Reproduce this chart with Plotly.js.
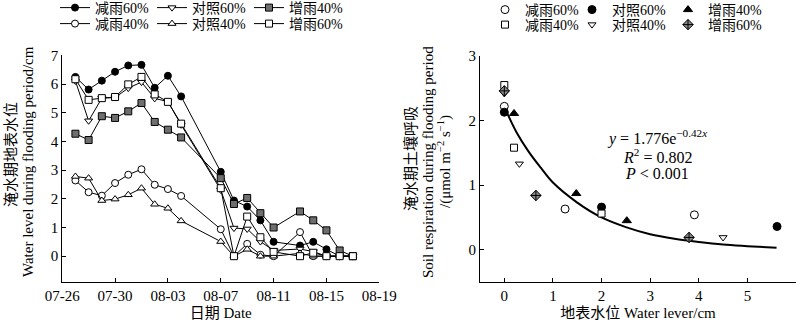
<!DOCTYPE html>
<html>
<head>
<meta charset="utf-8">
<script src="https://cdn.plot.ly/plotly-3.0.1.min.js"></script>
<style>html,body{margin:0;padding:0;background:#fff}#chart{width:800px;height:322px}</style>
</head>
<body>
<div id="chart"></div>
<script>
// ---------- Left chart: water level during flooding period ----------
const dates = ['2020-07-27','2020-07-28','2020-07-29','2020-07-30','2020-07-31','2020-08-01','2020-08-02','2020-08-03','2020-08-04','2020-08-07','2020-08-08','2020-08-09','2020-08-10','2020-08-11','2020-08-13','2020-08-14','2020-08-15','2020-08-16','2020-08-17'];
const jian60 = [6.25, 5.81, 6.12, 6.43, 6.65, 6.67, 5.87, 6.29, 5.57, 2.94, 1.94, 1.73, 1.25, 0.50, 0.37, 0.50, 0.24, 0, 0];
const jian40 = [2.64, 2.23, 2.11, 2.55, 2.84, 3.03, 2.49, 2.34, 2.10, 0.94, 0, 0.43, 0.05, 0, 0.84, 0, 0, 0, 0];
const dui60  = [6.11, 4.72, 5.51, 5.53, 5.86, 6.07, 5.50, 5.39, 4.58, 2.31, 0.98, 0.95, 0.51, 0.20, 0.25, 0.16, 0, 0, 0];
const dui40  = [2.78, 2.72, 1.94, 1.99, 2.14, 2.37, 1.81, 1.67, 1.23, 0.51, 0, 0.24, 0, 0, 0.10, 0, 0, 0, 0];
const zeng40 = [4.27, 4.05, 4.88, 4.82, 5.05, 5.34, 4.68, 4.41, 4.14, 2.72, 1.82, 2.03, 1.50, 1.00, 1.56, 1.25, 0.90, 0.20, 0];
const zeng60 = [6.17, 5.45, 5.51, 5.55, 5.99, 6.25, 5.64, 5.38, 4.62, 2.37, 0, 1.38, 0.66, 0.15, 0, 0.12, 0, 0, 0];

// ---------- Right chart: soil respiration vs water level ----------
const rJian60X = [0, 1.25, 3.91], rJian60Y = [2.22, 0.63, 0.54];
const rDui60X  = [0, 2.0, 5.61],  rDui60Y  = [2.13, 0.66, 0.36];
const rZeng40X = [0.2, 1.48, 2.52], rZeng40Y = [2.11, 0.87, 0.45];
const rJian40X = [0, 0.2, 2.0],  rJian40Y = [2.55, 1.58, 0.56];
const rDui40X  = [0, 0.31, 4.5], rDui40Y  = [2.42, 1.33, 0.19];
const rZeng60X = [0, 0.65, 3.8], rZeng60Y = [2.46, 0.84, 0.19];
// fitted curve
const fitX = [0.05, 0.25, 0.5, 0.75, 1, 1.5, 2, 2.5, 3, 3.5, 4, 4.5, 5, 5.6];
const fitY = [2.13, 1.82, 1.52, 1.27, 1.04, 0.73, 0.50, 0.35, 0.24, 0.17, 0.12, 0.08, 0.055, 0.03];

const names = ['减雨60%', '对照60%', '增雨40%', '减雨40%', '对照40%', '增雨60%'];

const FONT = 'Liberation Serif, "Times New Roman", "Noto Sans CJK SC", serif';
const W = 800, H = 322;
const px = v => v / W, py = v => (H - v) / H;

function lineTrace(y, name, symbol, fill, legend) {
  return {x: dates, y: y, name: name, type: 'scatter', mode: 'lines+markers',
    xaxis: 'x', yaxis: 'y', legend: legend,
    line: {color: '#000', width: 1},
    marker: {symbol: symbol, size: 7, color: fill, line: {color: '#000', width: 1}}};
}
function ptTrace(x, y, name, symbol, fill, size, legend) {
  return {x: x, y: y, name: name, type: 'scatter', mode: 'markers',
    xaxis: 'x2', yaxis: 'y2', legend: legend,
    marker: {symbol: symbol, size: size, color: fill, line: {color: '#000', width: 1}}};
}

const traces = [
  lineTrace(jian60, names[0], 'circle', '#000', 'legend'),
  lineTrace(dui60, names[1], 'triangle-down', '#fff', 'legend'),
  lineTrace(zeng40, names[2], 'square', '#6e6e6e', 'legend'),
  lineTrace(jian40, names[3], 'circle', '#fff', 'legend2'),
  lineTrace(dui40, names[4], 'triangle-up', '#fff', 'legend2'),
  lineTrace(zeng60, names[5], 'square', '#fff', 'legend2'),
  {x: fitX, y: fitY, type: 'scatter', mode: 'lines', xaxis: 'x2', yaxis: 'y2', showlegend: false,
   line: {color: '#000', width: 2, shape: 'spline'}},
  ptTrace(rJian60X, rJian60Y, names[0], 'circle', '#fff', 8, 'legend3'),
  ptTrace(rDui60X, rDui60Y, names[1], 'circle', '#000', 8, 'legend4'),
  ptTrace(rZeng40X, rZeng40Y, names[2], 'triangle-up', '#000', 8, 'legend5'),
  ptTrace(rJian40X, rJian40Y, names[3], 'square', '#fff', 7, 'legend6'),
  ptTrace(rDui40X, rDui40Y, names[4], 'triangle-down', '#fff', 7, 'legend7'),
  ptTrace(rZeng60X, rZeng60Y, names[5], 'diamond-cross', '#8a8a8a', 8, 'legend8')
];

const axisBase = {showline: true, linecolor: '#000', linewidth: 1, ticks: 'inside', ticklen: 4,
  tickcolor: '#000', tickwidth: 1, showgrid: false, zeroline: false, mirror: false,
  tickfont: {family: FONT, size: 15, color: '#000'}, fixedrange: true};

function legendCfg(x, y, ew) {
  return {orientation: 'h', x: px(x), xanchor: 'left', y: py(y), yanchor: 'middle',
    entrywidth: ew, entrywidthmode: 'pixels', itemwidth: 30, bgcolor: 'rgba(0,0,0,0)',
    borderwidth: 0, font: {family: FONT, size: 14, color: '#000'}, traceorder: 'normal'};
}

const ann = (text, x, y, size, angle) => ({text: text, x: px(x), y: py(y), xref: 'paper', yref: 'paper',
  showarrow: false, xanchor: 'center', yanchor: 'middle', textangle: angle || 0,
  font: {family: FONT, size: size, color: '#000'}});

const layout = {
  width: W, height: H, margin: {l: 0, r: 0, t: 0, b: 0, autoexpand: false},
  paper_bgcolor: '#fff', plot_bgcolor: '#fff', showlegend: true,
  font: {family: FONT, color: '#000'},
  xaxis: Object.assign({}, axisBase, {domain: [px(62.2), px(379.3)], type: 'date',
    range: ['2020-07-26', '2020-08-19'], tick0: '2020-07-26', dtick: 4 * 86400000, tickformat: '%m-%d',
    title: {text: '日期 Date', font: {family: FONT, size: 15}, standoff: 4}}),
  yaxis: Object.assign({}, axisBase, {domain: [py(282), py(55.4)], range: [-0.9, 7], dtick: 1, tick0: 0}),
  xaxis2: Object.assign({}, axisBase, {domain: [px(480), px(796)], anchor: 'y2', range: [-0.5, 6], dtick: 1, tick0: 0,
    title: {text: '地表水位 Water lever/cm', font: {family: FONT, size: 15}, standoff: 4}}),
  yaxis2: Object.assign({}, axisBase, {domain: [py(282), py(56)], anchor: 'x2', range: [-0.5, 3], dtick: 1, tick0: 0}),
  legend: legendCfg(55, 8, 52),
  legend2: legendCfg(55, 24, 52),
  legend3: legendCfg(485, 10, 0),
  legend4: legendCfg(572, 10, 0),
  legend5: legendCfg(668, 10, 0),
  legend6: legendCfg(485, 25, 0),
  legend7: legendCfg(572, 25, 0),
  legend8: legendCfg(668, 25, 0),
  annotations: [
    ann('淹水期地表水位', 11, 155, 15, -90),
    ann('Water level during flooding period/cm', 28, 162, 15, -90),
    ann('淹水期土壤呼吸', 410, 158, 15, -90),
    ann('Soil respiration during flooding period', 428, 162, 15, -90),
    ann('/(μmol m<sup>−2</sup> s<sup>−1</sup>)', 445, 162, 15, -90),
    ann('<i>y</i> = 1.776e<sup>−0.42<i>x</i></sup>', 657, 137, 16),
    ann('<i>R</i><sup>2</sup> = 0.802', 657, 156, 16),
    ann('<i>P</i> &lt; 0.001', 657, 173, 16)
  ]
};

Plotly.newPlot('chart', traces, layout, {staticPlot: true, displayModeBar: false});
</script>
</body>
</html>
